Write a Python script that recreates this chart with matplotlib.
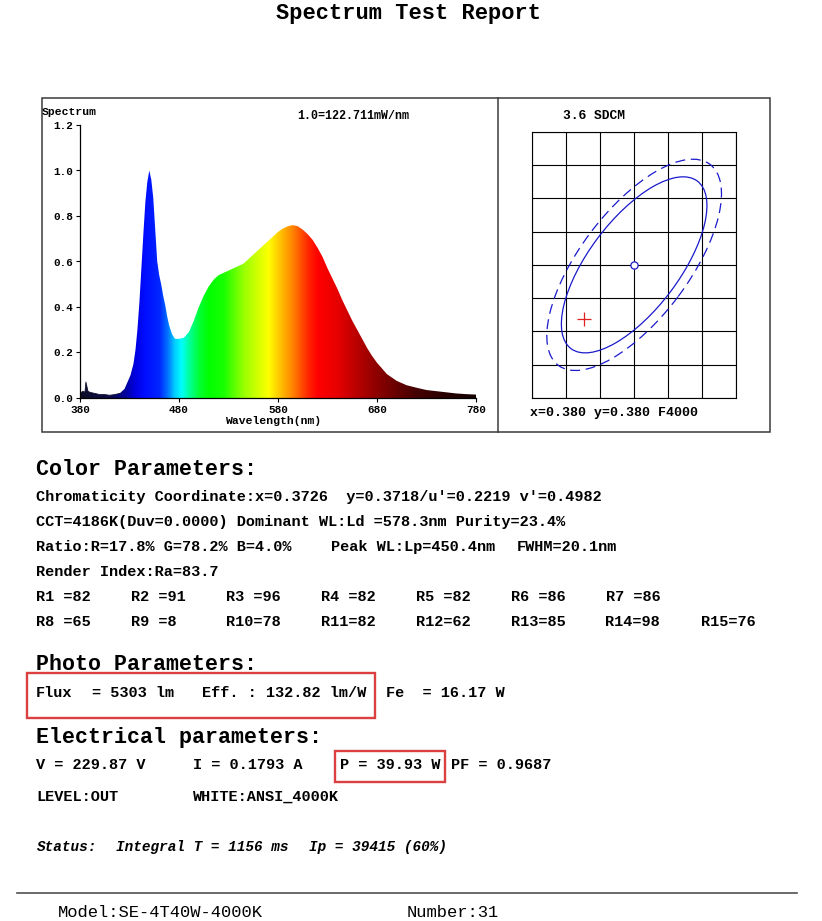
import matplotlib
matplotlib.use("Agg")
import matplotlib.pyplot as plt
import numpy as np
from matplotlib.patches import Rectangle, Ellipse, Polygon
from matplotlib.lines import Line2D
from matplotlib.colors import LinearSegmentedColormap

# ---------------- data ----------------
wavelength = [380, 383, 385, 386, 388, 390, 395, 400, 405, 410, 415, 420, 425, 428, 431,
              434, 436, 438, 440, 442, 444, 446, 448, 450, 452, 454, 456, 458, 460, 462,
              464, 466, 468, 470, 473, 476, 480, 485, 490, 495, 500, 505, 510, 515, 520,
              525, 530, 535, 540, 545, 550, 555, 560, 565, 570, 575, 580, 585, 590, 595,
              600, 605, 610, 615, 620, 625, 630, 635, 640, 645, 650, 655, 660, 665, 670,
              675, 680, 685, 690, 695, 700, 710, 720, 730, 740, 750, 760, 770, 780]
rel_power = [0.020, 0.030, 0.025, 0.070, 0.030, 0.025, 0.020, 0.015, 0.015, 0.012, 0.015,
             0.020, 0.040, 0.070, 0.100, 0.150, 0.210, 0.300, 0.420, 0.570, 0.720, 0.860,
             0.950, 1.000, 0.960, 0.880, 0.740, 0.600, 0.540, 0.500, 0.450, 0.410, 0.360,
             0.320, 0.280, 0.260, 0.260, 0.265, 0.290, 0.340, 0.400, 0.450, 0.490, 0.520,
             0.540, 0.550, 0.560, 0.570, 0.580, 0.590, 0.610, 0.630, 0.650, 0.670, 0.690,
             0.710, 0.730, 0.745, 0.755, 0.760, 0.755, 0.740, 0.720, 0.695, 0.660, 0.620,
             0.570, 0.525, 0.480, 0.430, 0.385, 0.340, 0.300, 0.260, 0.220, 0.185, 0.155,
             0.130, 0.105, 0.090, 0.075, 0.056, 0.045, 0.035, 0.030, 0.025, 0.020, 0.017,
             0.015]
x_ticks = [380, 480, 580, 680, 780]
y_ticks = [0.0, 0.2, 0.4, 0.6, 0.8, 1.0, 1.2]

# chromaticity
meas_x, meas_y = 0.3726, 0.3718
center_x, center_y = 0.380, 0.380
mac_a, mac_b, mac_theta = 0.00313, 0.00134, 53.72
ellipse_steps = [5, 6]
grid_x = [0.365, 0.370, 0.375, 0.380, 0.385, 0.390, 0.395]
grid_y = [0.360, 0.365, 0.370, 0.375, 0.380, 0.385, 0.390, 0.395, 0.400]

title = "Spectrum Test Report"
color_lines = [
    "Chromaticity Coordinate:x=0.3726  y=0.3718/u'=0.2219 v'=0.4982",
    "CCT=4186K(Duv=0.0000) Dominant WL:Ld =578.3nm Purity=23.4%",
]
ratio_parts = ["Ratio:R=17.8% G=78.2% B=4.0%", "Peak WL:Lp=450.4nm", "FWHM=20.1nm"]
render_line = "Render Index:Ra=83.7"
r_row1 = ["R1 =82", "R2 =91", "R3 =96", "R4 =82", "R5 =82", "R6 =86", "R7 =86"]
r_row2 = ["R8 =65", "R9 =8", "R10=78", "R11=82", "R12=62", "R13=85", "R14=98", "R15=76"]

# ---------------- figure ----------------
W, H = 822, 921
fig = plt.figure(figsize=(W / 100, H / 100), dpi=100)
fig.patch.set_facecolor("white")
FONT = "Liberation Mono"


def fx(x):
    return x / W


def fy(y):
    return 1 - y / H


def txt(x, y, s, size=11, weight="bold", ha="left", style="normal"):
    fig.text(fx(x), fy(y), s, ha=ha, va="center", fontsize=size, fontweight=weight,
             family=FONT, style=style, color="black")


# title
txt(408, 13, title, size=15.8, weight="bold", ha="center")

# outer box of charts
fig.add_artist(Rectangle((fx(42), fy(432)), fx(770) - fx(42), fy(98) - fy(432),
                         transform=fig.transFigure, fill=False, ec="#3a3a3a", lw=1.1))
fig.add_artist(Line2D([fx(498), fx(498)], [fy(98), fy(432)], transform=fig.transFigure,
                      color="#3a3a3a", lw=1.1))

# ---------------- spectrum ----------------
ax = fig.add_axes([fx(80), fy(398), fx(476) - fx(80), fy(125) - fy(398)])
ax.set_xlim(380, 780)
ax.set_ylim(0, 1.2)
stops = [(380, (0.05, 0.05, 0.15)), (410, (0.05, 0.05, 0.30)), (425, (0.0, 0.0, 0.60)),
         (435, (0.0, 0.0, 0.88)), (445, (0.0, 0.05, 1.0)), (460, (0.0, 0.15, 1.0)),
         (468, (0.0, 0.45, 1.0)), (475, (0.0, 0.8, 1.0)), (482, (0.0, 1.0, 1.0)),
         (490, (0.0, 1.0, 0.6)), (500, (0.0, 1.0, 0.2)), (510, (0.0, 1.0, 0.0)),
         (525, (0.1, 1.0, 0.0)), (545, (0.6, 1.0, 0.0)), (570, (1.0, 1.0, 0.0)),
         (585, (1.0, 0.7, 0.0)), (595, (1.0, 0.5, 0.0)), (610, (1.0, 0.15, 0.0)),
         (620, (1.0, 0.0, 0.0)), (640, (0.9, 0.0, 0.0)), (660, (0.72, 0.0, 0.0)),
         (680, (0.55, 0.0, 0.0)), (700, (0.40, 0.0, 0.0)), (720, (0.27, 0.0, 0.0)),
         (750, (0.15, 0.0, 0.0)), (780, (0.08, 0.0, 0.0))]
cmap = LinearSegmentedColormap.from_list(
    "spec", [((w - 380) / 400, c) for w, c in stops], N=512)
grad = np.linspace(380, 780, 800).reshape(1, -1)
im = ax.imshow(grad, extent=(380, 780, 0, 1.2), aspect="auto", cmap=cmap,
               vmin=380, vmax=780, origin="lower", interpolation="bilinear", zorder=1)
poly_pts = np.column_stack([wavelength + [780, 380], rel_power + [0, 0]])
poly = Polygon(poly_pts, closed=True, transform=ax.transData, fc="none", ec="none")
ax.add_patch(poly)
im.set_clip_path(poly)
ax.plot(wavelength[:12], rel_power[:12], color="#101030", lw=0.6, zorder=2)

for s in ["top", "right"]:
    ax.spines[s].set_visible(False)
for s in ["left", "bottom"]:
    ax.spines[s].set_linewidth(0.9)
    ax.spines[s].set_zorder(3)
ax.set_xticks(x_ticks)
ax.set_yticks(y_ticks)
ax.set_yticklabels([f"{v:.1f}" for v in y_ticks])
ax.tick_params(axis="both", direction="out", length=3, width=0.8, labelsize=7.9, pad=2)
for lab in ax.get_xticklabels() + ax.get_yticklabels():
    lab.set_family(FONT)
    lab.set_fontweight("bold")
ax.set_facecolor("none")

txt(42, 112, "Spectrum", size=8.2)
txt(353, 116, "1.0=122.711mW/nm", size=8.4, ha="center")
txt(273, 421, "Wavelength(nm)", size=8.2, ha="center")

# ---------------- SDCM ----------------
ax2 = fig.add_axes([fx(532.3), fy(398), fx(736) - fx(532.3), fy(131.7) - fy(398)])
ax2.set_xlim(grid_x[0], grid_x[-1])
ax2.set_ylim(grid_y[0], grid_y[-1])
ax2.set_xticks(grid_x)
ax2.set_yticks(grid_y)
ax2.tick_params(length=0, labelbottom=False, labelleft=False)
ax2.grid(True, color="black", lw=0.8)
for s in ax2.spines.values():
    s.set_linewidth(0.8)
styles = ["-", (0, (8, 4.5))]
for st, ls in zip(ellipse_steps, styles):
    ax2.add_patch(Ellipse((center_x, center_y), 2 * mac_a * st, 2 * mac_b * st,
                          angle=mac_theta, fill=False, ec="#1a1acc", lw=0.9, ls=ls,
                          zorder=3))
ax2.plot([center_x], [center_y], marker="o", ms=5.2, mfc="white", mec="#1a1acc",
         mew=0.9, zorder=4)
ax2.plot([meas_x], [meas_y], marker="+", ms=9.5, color="#e02020", mew=0.9, zorder=4)
txt(594, 116, "3.6 SDCM", size=9.4, ha="center")
txt(530, 413, "x=0.380 y=0.380 F4000", size=9.5)

# ---------------- Color parameters ----------------
txt(36, 469, "Color Parameters:", size=15.6)
txt(36, 497, color_lines[0], size=11)
txt(36, 522, color_lines[1], size=11)
for part, xpos in zip(ratio_parts, [36, 331, 517]):
    txt(xpos, 547, part, size=11)
txt(36, 572, render_line, size=11)
r_cols = [36, 130.5, 225.5, 320.5, 416, 511, 605.5, 700.5]
for s, xp in zip(r_row1, r_cols):
    txt(xp, 597, s, size=11)
for s, xp in zip(r_row2, r_cols):
    txt(xp, 622, s, size=11)

# ---------------- Photo parameters ----------------
txt(36, 665, "Photo Parameters:", size=15.6)
txt(36, 693, "Flux", size=11)
txt(92, 693, "= 5303 lm", size=11)
txt(201.5, 693, "Eff. : 132.82 lm/W", size=11)
txt(386, 693, "Fe  = 16.17 W", size=11)
fig.add_artist(Rectangle((fx(27), fy(718)), fx(375) - fx(27), fy(673) - fy(718),
                         transform=fig.transFigure, fill=False, ec="#dc3f3f", lw=1.7))

# ---------------- Electrical parameters ----------------
txt(36, 737, "Electrical parameters:", size=15.6)
txt(36, 765, "V = 229.87 V", size=11)
txt(193, 765, "I = 0.1793 A", size=11)
txt(340, 765, "P = 39.93 W", size=11)
txt(451, 765, "PF = 0.9687", size=11)
fig.add_artist(Rectangle((fx(335), fy(782)), fx(445) - fx(335), fy(751) - fy(782),
                         transform=fig.transFigure, fill=False, ec="#dc3f3f", lw=1.7))
txt(36, 797, "LEVEL:OUT", size=11)
txt(193, 797, "WHITE:ANSI_4000K", size=11)

txt(36.5, 847, "Status:", size=10.4, style="italic")
txt(116, 847, "Integral T = 1156 ms", size=10.4, style="italic")
txt(308.5, 847, "Ip = 39415 (60%)", size=10.4, style="italic")

fig.add_artist(Line2D([fx(17), fx(797)], [fy(893), fy(893)], transform=fig.transFigure,
                      color="#505050", lw=1.2))
txt(58, 912, "Model:SE-4T40W-4000K", size=12.3, weight="normal")
txt(406.5, 912, "Number:31", size=12.3, weight="normal")

fig.savefig("out.png", dpi=100, facecolor="white")
